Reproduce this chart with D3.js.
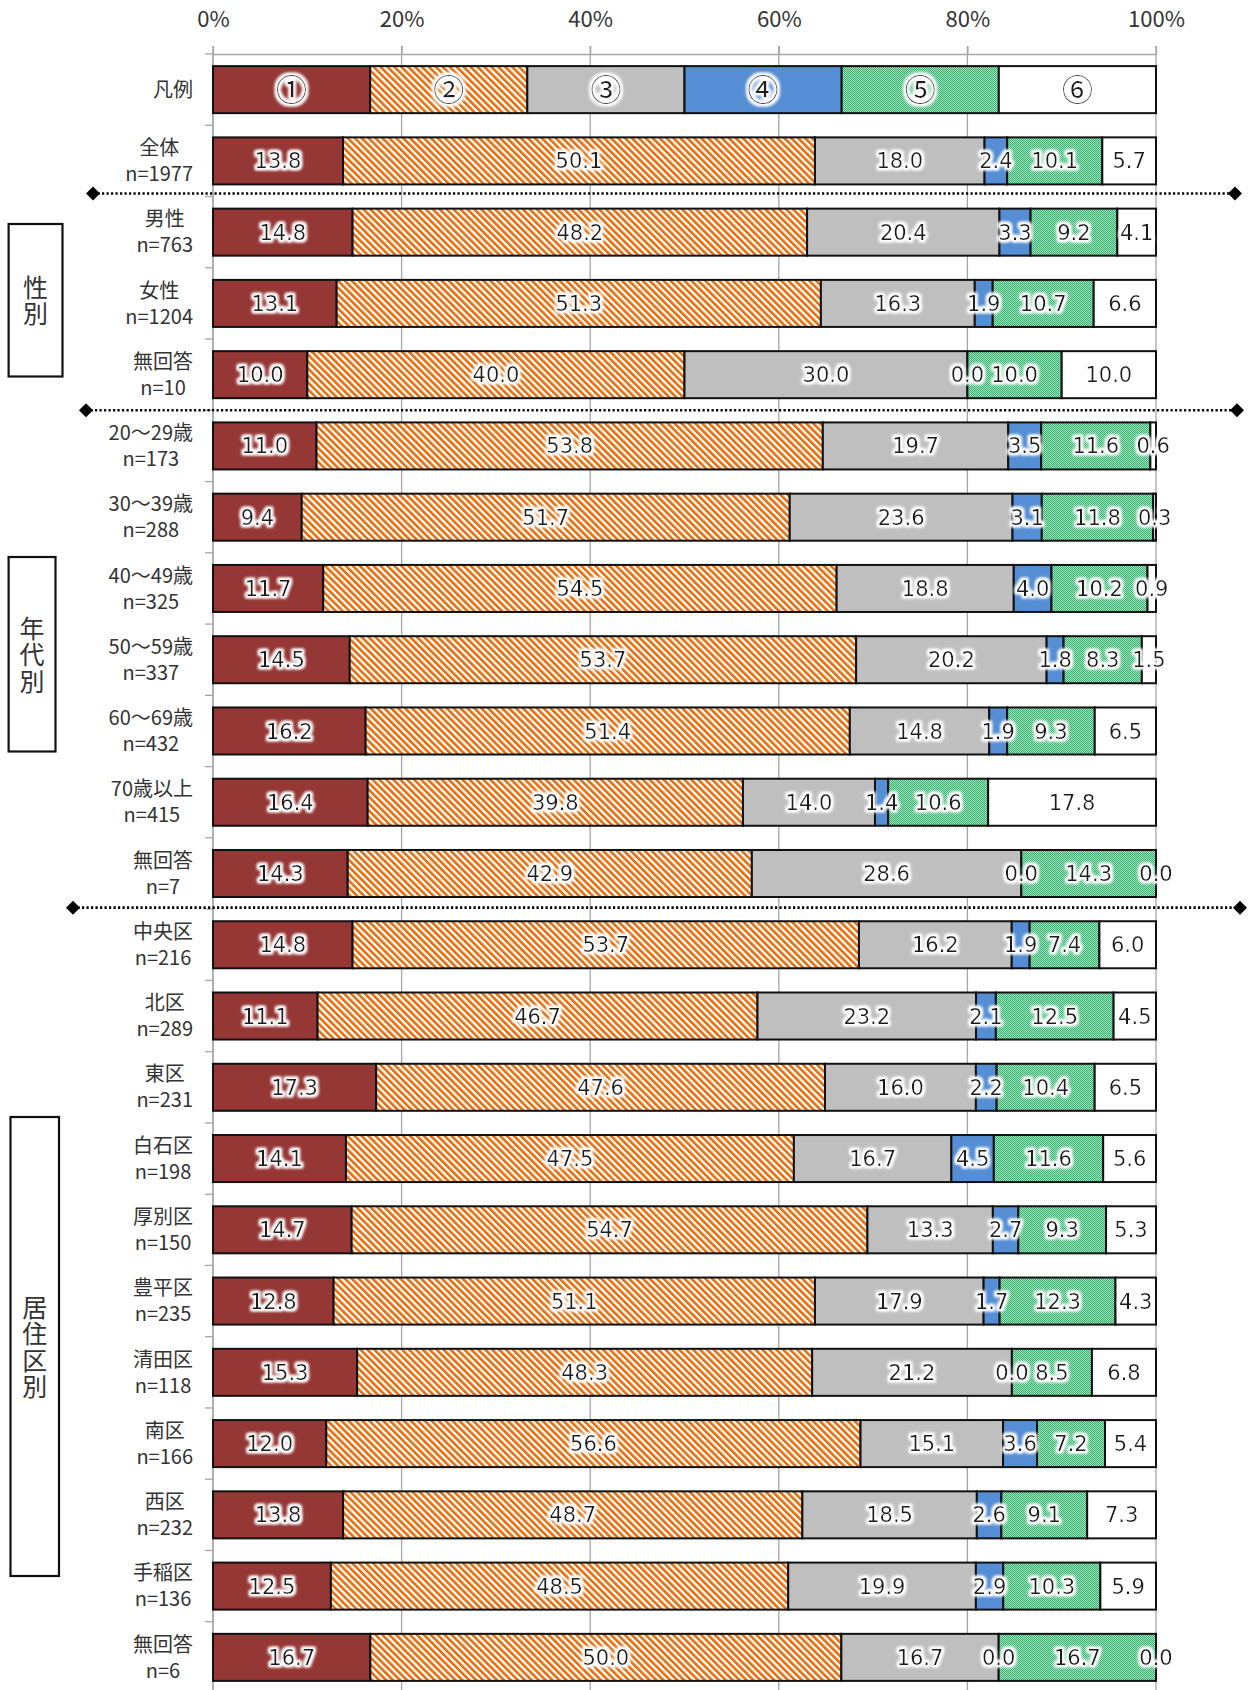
<!DOCTYPE html>
<html lang="ja">
<head>
<meta charset="utf-8">
<title>100%積み上げ横棒グラフ</title>
<script src="https://cdn.jsdelivr.net/npm/d3@7/dist/d3.min.js"></script>
<style>
  html, body { margin: 0; padding: 0; background: #fff; }
  svg { display: block; }
</style>
</head>
<body>
<svg id="chart" width="1251" height="1690"></svg>
<script>
// ---- data -------------------------------------------------------------
const categories = ["全体", "男性", "女性", "無回答",
  "20～29歳", "30～39歳", "40～49歳", "50～59歳", "60～69歳", "70歳以上", "無回答",
  "中央区", "北区", "東区", "白石区", "厚別区", "豊平区", "清田区", "南区", "西区", "手稲区", "無回答"];
const sampleSizes = ["n=1977", "n=763", "n=1204", "n=10",
  "n=173", "n=288", "n=325", "n=337", "n=432", "n=415", "n=7",
  "n=216", "n=289", "n=231", "n=198", "n=150", "n=235", "n=118", "n=166", "n=232", "n=136", "n=6"];

const series1 = [13.8, 14.8, 13.1, 10.0, 11.0, 9.4, 11.7, 14.5, 16.2, 16.4, 14.3, 14.8, 11.1, 17.3, 14.1, 14.7, 12.8, 15.3, 12.0, 13.8, 12.5, 16.7];
const series2 = [50.1, 48.2, 51.3, 40.0, 53.8, 51.7, 54.5, 53.7, 51.4, 39.8, 42.9, 53.7, 46.7, 47.6, 47.5, 54.7, 51.1, 48.3, 56.6, 48.7, 48.5, 50.0];
const series3 = [18.0, 20.4, 16.3, 30.0, 19.7, 23.6, 18.8, 20.2, 14.8, 14.0, 28.6, 16.2, 23.2, 16.0, 16.7, 13.3, 17.9, 21.2, 15.1, 18.5, 19.9, 16.7];
const series4 = [2.4, 3.3, 1.9, 0.0, 3.5, 3.1, 4.0, 1.8, 1.9, 1.4, 0.0, 1.9, 2.1, 2.2, 4.5, 2.7, 1.7, 0.0, 3.6, 2.6, 2.9, 0.0];
const series5 = [10.1, 9.2, 10.7, 10.0, 11.6, 11.8, 10.2, 8.3, 9.3, 10.6, 14.3, 7.4, 12.5, 10.4, 11.6, 9.3, 12.3, 8.5, 7.2, 9.1, 10.3, 16.7];
const series6 = [5.7, 4.1, 6.6, 10.0, 0.6, 0.3, 0.9, 1.5, 6.5, 17.8, 0.0, 6.0, 4.5, 6.5, 5.6, 5.3, 4.3, 6.8, 5.4, 7.3, 5.9, 0.0];

// legend row: six equal parts, each tagged with its series mark
const legendTitle = "凡例";
const legendMarks = ["①", "②", "③", "④", "⑤", "⑥"];
const legendShares = [1, 1, 1, 1, 1, 1];

const tickValues = [0, 0.2, 0.4, 0.6, 0.8, 1.0];

// groups drawn as boxed vertical captions, with dotted dividers above them
const groups = [
  { label: "性別",     first: 2 },
  { label: "年代別",   first: 5 },
  { label: "居住区別", first: 12 }
];

// ---- table -------------------------------------------------------------
const seriesKeys = ["s1", "s2", "s3", "s4", "s5", "s6"];
const allSeries = [series1, series2, series3, series4, series5, series6];

const rows = [];
rows.push(Object.assign({ id: "r0", name: legendTitle, n: "", legend: true },
  Object.fromEntries(seriesKeys.map((k, j) => [k, legendShares[j]]))));
categories.forEach((c, i) => {
  rows.push(Object.assign({ id: "r" + (i + 1), name: c, n: sampleSizes[i], legend: false },
    Object.fromEntries(seriesKeys.map((k, j) => [k, allSeries[j][i]]))));
});

// ---- layout ------------------------------------------------------------
const svg = d3.select("#chart");
const W = 1251, H = 1690;
const plotLeft = 213, plotRight = 1156, plotTop = 54, plotBottom = 1693;

const x = d3.scaleLinear().domain([0, 1]).range([plotLeft, plotRight]);
const y = d3.scaleBand().domain(rows.map(d => d.id))
  .range([plotTop, plotBottom]).paddingInner(0.34).paddingOuter(0.17);
const step = y.step();

const fontJP = "'Noto Sans CJK JP', 'Noto Sans', sans-serif";
const fontNum = "'DejaVu Sans', 'Noto Sans CJK JP', sans-serif";
const gridColor = "#a6a6a6";

// ---- defs: fills and label halo -----------------------------------------
const defs = svg.append("defs");

const stripe = defs.append("pattern").attr("id", "stripe")
  .attr("patternUnits", "userSpaceOnUse").attr("width", 4.9).attr("height", 4.9)
  .attr("patternTransform", "rotate(-45)");
stripe.append("rect").attr("width", 4.9).attr("height", 4.9).attr("fill", "#fff");
stripe.append("rect").attr("width", 2.6).attr("height", 4.9).attr("fill", "#e46c0a");

const dots = defs.append("pattern").attr("id", "dots")
  .attr("patternUnits", "userSpaceOnUse").attr("width", 2).attr("height", 2);
dots.append("rect").attr("width", 2).attr("height", 2).attr("fill", "#a6e2c0");
dots.append("rect").attr("width", 1).attr("height", 1).attr("fill", "#2fb26c");
dots.append("rect").attr("x", 1).attr("y", 1).attr("width", 1).attr("height", 1).attr("fill", "#2fb26c");

const glow = defs.append("filter").attr("id", "halo")
  .attr("x", "-30%").attr("y", "-50%").attr("width", "160%").attr("height", "200%");
glow.append("feMorphology").attr("in", "SourceAlpha").attr("operator", "dilate")
  .attr("radius", 2).attr("result", "thick");
glow.append("feGaussianBlur").attr("in", "thick").attr("stdDeviation", 1.6).attr("result", "soft");
glow.append("feFlood").attr("flood-color", "#ffffff").attr("result", "white");
glow.append("feComposite").attr("in", "white").attr("in2", "soft").attr("operator", "in").attr("result", "glowW");
const merge = glow.append("feMerge");
merge.append("feMergeNode").attr("in", "glowW");
merge.append("feMergeNode").attr("in", "glowW");
merge.append("feMergeNode").attr("in", "SourceGraphic");

const fills = ["#953735", "url(#stripe)", "#bfbfbf", "#558ed5", "url(#dots)", "#ffffff"];

// ---- gridlines and axes -------------------------------------------------
svg.append("g").attr("class", "grid")
  .selectAll("line").data(tickValues).join("line")
  .attr("x1", d => x(d)).attr("x2", d => x(d))
  .attr("y1", plotTop - 8).attr("y2", H)
  .attr("stroke", gridColor).attr("stroke-width", 1.3);

const xAxis = svg.append("g").attr("transform", `translate(0,${plotTop})`)
  .call(d3.axisTop(x).tickValues(tickValues).tickFormat(d3.format(".0%"))
    .tickSize(8).tickSizeOuter(0).tickPadding(19));
xAxis.select(".domain").attr("stroke", gridColor).attr("stroke-width", 1.3);
xAxis.selectAll(".tick line").attr("stroke", gridColor).attr("stroke-width", 1.3);
xAxis.selectAll(".tick text").attr("fill", "#333").attr("font-family", fontJP)
  .attr("font-size", 22).attr("dy", 0);

// category axis: gray line with outward ticks on the row boundaries
svg.append("line").attr("x1", plotLeft).attr("x2", plotLeft)
  .attr("y1", plotTop).attr("y2", H).attr("stroke", gridColor).attr("stroke-width", 1.3);
const boundaries = d3.range(rows.length + 1).map(i => y.range()[0] + i * step);
svg.append("g").selectAll("line").data(boundaries).join("line")
  .attr("x1", plotLeft - 8).attr("x2", plotLeft)
  .attr("y1", d => d).attr("y2", d => d)
  .attr("stroke", gridColor).attr("stroke-width", 1.3);

// ---- bars --------------------------------------------------------------
const stacked = d3.stack().keys(seriesKeys).offset(d3.stackOffsetExpand)(rows);

const layers = svg.append("g").attr("class", "bars")
  .selectAll("g").data(stacked).join("g")
  .attr("fill", (d, i) => fills[i]);

layers.selectAll("rect").data(d => d).join("rect")
  .attr("x", d => x(d[0]))
  .attr("width", d => Math.max(0, x(d[1]) - x(d[0])))
  .attr("y", d => y(d.data.id))
  .attr("height", y.bandwidth())
  .attr("stroke", "#111").attr("stroke-width", 2);

// ---- dotted dividers between groups ------------------------------------
const dividerSpans = [[93, 1235, -3], [86, 1237, 0], [73, 1240, -1.5]];
groups.forEach((g, gi) => {
  const yy = y(rows[g.first].id) - (step - y.bandwidth()) / 2 + dividerSpans[gi][2];
  const [xa, xb] = dividerSpans[gi];
  svg.append("line").attr("x1", xa).attr("x2", xb).attr("y1", yy).attr("y2", yy)
    .attr("stroke", "#000").attr("stroke-width", 2.6).attr("stroke-dasharray", "2.2,2.3");
  [xa, xb].forEach(cx => {
    svg.append("path").attr("d", `M${cx - 7},${yy} L${cx},${yy - 7} L${cx + 7},${yy} L${cx},${yy + 7} Z`)
      .attr("fill", "#000");
  });
});

// ---- value labels --------------------------------------------------------
const labelG = svg.append("g").attr("class", "labels").attr("filter", "url(#halo)");
stacked.forEach((layer, j) => {
  labelG.selectAll(null).data(layer).join("text")
    .attr("x", d => (x(d[0]) + x(d[1])) / 2)
    .attr("y", d => y(d.data.id) + y.bandwidth() / 2)
    .attr("dy", d => d.data.legend ? "0.38em" : "0.36em")
    .attr("text-anchor", "middle")
    .attr("font-family", d => d.data.legend ? fontJP : fontNum)
    .attr("font-size", d => d.data.legend ? 31 : 21)
    .attr("fill", "#1e1e1e")
    .text(d => d.data.legend ? legendMarks[j] : d3.format(".1f")(d.data[layer.key]));
});

// ---- category labels: two centred lines, block right-aligned -------------
const labelRight = 193;
const catG = svg.append("g").attr("font-family", fontJP).attr("font-size", 20)
  .attr("fill", "#333").attr("text-anchor", "middle");
rows.forEach(r => {
  const cy = y(r.id) + y.bandwidth() / 2;
  const lines = r.legend ? [r.name] : [r.name, r.n];
  const texts = lines.map((t, i) => catG.append("text")
    .attr("y", lines.length === 1 ? cy : cy + (i === 0 ? -13 : 13))
    .attr("dy", "0.36em").text(t));
  const widest = d3.max(texts, t => t.node().getComputedTextLength());
  texts.forEach(t => t.attr("x", labelRight - widest / 2));
});

// ---- boxed group captions (vertical writing) ------------------------------
const boxSpans = [[8.6, 62.5, 224, 376.5], [8.6, 55.5, 557, 751.5], [10.5, 59, 1117, 1576]];
groups.forEach((g, gi) => {
  const [bx0, bx1, by0, by1] = boxSpans[gi];
  svg.append("rect").attr("x", bx0).attr("y", by0)
    .attr("width", bx1 - bx0).attr("height", by1 - by0)
    .attr("fill", "#fff").attr("stroke", "#111").attr("stroke-width", 2.2);
  svg.append("text")
    .attr("x", (bx0 + bx1) / 2)
    .attr("y", (by0 + by1) / 2 + 1)
    .attr("writing-mode", "vertical-rl")
    .attr("text-anchor", "middle")
    .attr("letter-spacing", 1.5)
    .attr("font-family", fontJP).attr("font-size", 25).attr("fill", "#333")
    .text(g.label);
});
</script>
</body>
</html>
